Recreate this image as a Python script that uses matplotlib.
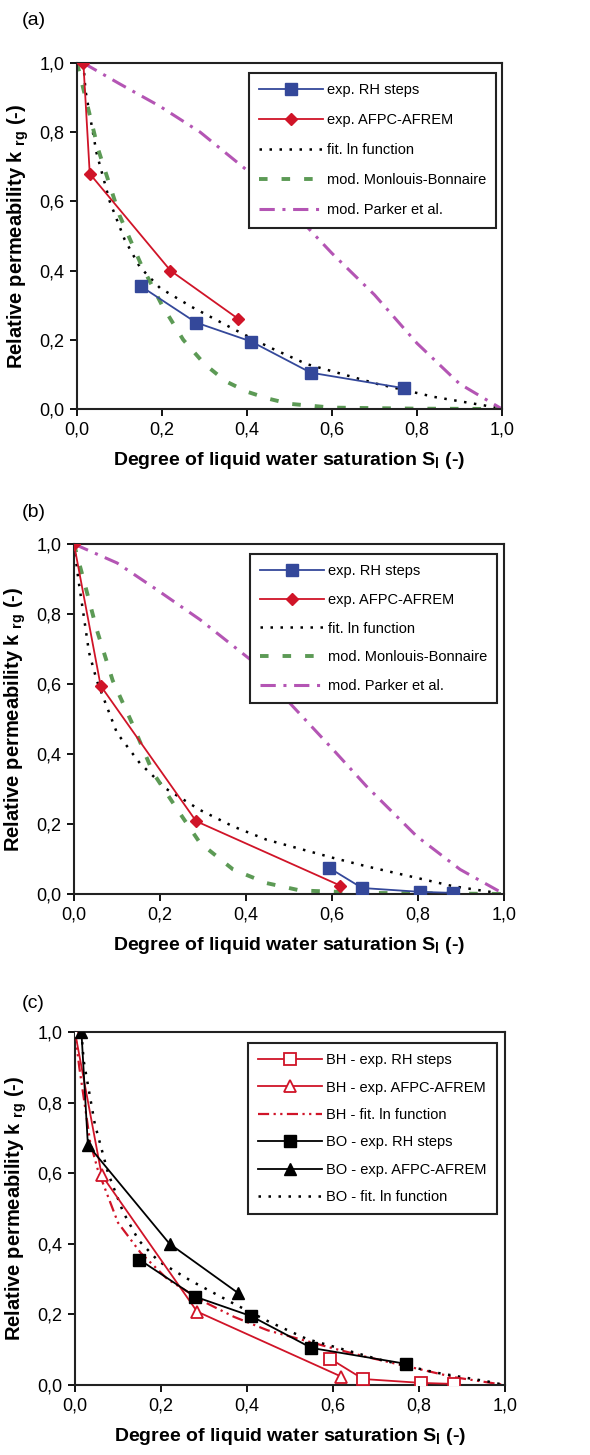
import matplotlib
matplotlib.use('Agg')
import matplotlib.pyplot as plt
from matplotlib.ticker import FuncFormatter, MultipleLocator

plt.rcParams['font.family'] = ['Liberation Sans', 'DejaVu Sans']
plt.rcParams['mathtext.fontset'] = 'custom'
plt.rcParams['mathtext.rm'] = 'Liberation Sans'
plt.rcParams['mathtext.bf'] = 'Liberation Sans:bold'

# panel (a) - BO
a_rh_x = [0.15, 0.28, 0.41, 0.55, 0.77]
a_rh_y = [0.355, 0.25, 0.195, 0.105, 0.06]
a_af_x = [0.015, 0.03, 0.22, 0.38]
a_af_y = [1.0, 0.68, 0.40, 0.26]
a_fit_x = [0.015, 0.02, 0.046, 0.077, 0.112, 0.148, 0.195, 0.27, 0.37, 0.45, 0.54, 0.705, 0.84, 0.96, 1.0]
a_fit_y = [1.0, 0.92, 0.74, 0.60, 0.49, 0.41, 0.35, 0.295, 0.23, 0.18, 0.13, 0.073, 0.035, 0.01, 0.0]
a_mb_x = [0.0, 0.02, 0.05, 0.1, 0.15, 0.2, 0.25, 0.3, 0.35, 0.4, 0.45, 0.5, 0.6, 0.8, 1.0]
a_mb_y = [1.0, 0.9, 0.75, 0.56, 0.42, 0.3, 0.2, 0.13, 0.08, 0.05, 0.03, 0.015, 0.004, 0.001, 0.0]
a_pk_x = [0.015, 0.1, 0.195, 0.29, 0.4, 0.5, 0.6, 0.7, 0.8, 0.9, 1.0]
a_pk_y = [1.0, 0.94, 0.875, 0.80, 0.69, 0.58, 0.45, 0.33, 0.19, 0.073, 0.0]

# panel (b) - BH
b_rh_x = [0.594, 0.67, 0.805, 0.882]
b_rh_y = [0.074, 0.017, 0.006, 0.003]
b_af_x = [0.0, 0.062, 0.284, 0.619]
b_af_y = [1.0, 0.595, 0.208, 0.024]
b_fit_x = [0.0, 0.01, 0.022, 0.035, 0.053, 0.1, 0.153, 0.215, 0.293, 0.37, 0.448, 0.603, 0.68, 0.797, 0.882, 1.0]
b_fit_y = [1.0, 0.9, 0.8, 0.69, 0.61, 0.46, 0.374, 0.3, 0.24, 0.193, 0.155, 0.103, 0.079, 0.046, 0.022, 0.0]
b_mb_x = [0.0, 0.022, 0.053, 0.09, 0.138, 0.184, 0.246, 0.293, 0.37, 0.448, 0.526, 0.68, 1.0]
b_mb_y = [1.0, 0.9, 0.755, 0.61, 0.48, 0.346, 0.231, 0.146, 0.07, 0.031, 0.01, 0.003, 0.0]
b_pk_x = [0.0, 0.1, 0.192, 0.293, 0.41, 0.487, 0.603, 0.68, 0.797, 0.898, 1.0]
b_pk_y = [1.0, 0.946, 0.87, 0.784, 0.67, 0.565, 0.412, 0.308, 0.165, 0.07, 0.0]

blue = '#34489a'
red = '#d01428'
green = '#5c9a55'
magenta = '#b455b4'
dotted = (0, (1, 3))
dashed = (0, (2.2, 3.6))
dashdot = (0, (5, 2.5, 1, 2.5))

xlabel = r'Degree of liquid water saturation S$_{\mathbf{l}}$ (-)'
ylabel = r'Relative permeability k $_{\mathbf{rg}}$ (-)'
comma = FuncFormatter(lambda v, p: ('%.1f' % v).replace('.', ','))


def style(ax):
    ax.set_xlim(0, 1)
    ax.set_ylim(0, 1)
    ax.xaxis.set_major_locator(MultipleLocator(0.2))
    ax.yaxis.set_major_locator(MultipleLocator(0.2))
    ax.xaxis.set_major_formatter(comma)
    ax.yaxis.set_major_formatter(comma)
    ax.tick_params(direction='out', length=5, width=1.3, labelsize=13, pad=4)
    for s in ax.spines.values():
        s.set_linewidth(1.5)
        s.set_color('#222222')
    ax.set_xlabel(xlabel, fontsize=14, fontweight='bold', labelpad=8)
    ax.set_ylabel(ylabel, fontsize=14.5, fontweight='bold', labelpad=6)


def legend(ax, anchor, spacing):
    lg = ax.legend(loc='upper right', bbox_to_anchor=anchor, fontsize=10.5,
                   handlelength=4.4, handletextpad=0.25, labelspacing=spacing,
                   borderpad=0.7, borderaxespad=0, fancybox=False,
                   framealpha=1, edgecolor='#222222')
    lg.get_frame().set_linewidth(1.5)


fig = plt.figure(figsize=(5.9, 14.55), dpi=100)

# (a)
ax = fig.add_axes([0.1305, 0.7189, 0.7203, 0.2378])
ax.plot(a_rh_x, a_rh_y, color=blue, lw=1.3, marker='s', ms=8, zorder=5, label='exp. RH steps')
ax.plot(a_af_x, a_af_y, color=red, lw=1.3, marker='D', ms=6.5, zorder=5, label='exp. AFPC-AFREM')
ax.plot(a_fit_x, a_fit_y, color='black', lw=1.8, ls=dotted, label='fit. ln function')
ax.plot(a_mb_x, a_mb_y, color=green, lw=2.8, ls=dashed, label='mod. Monlouis-Bonnaire')
ax.plot(a_pk_x, a_pk_y, color=magenta, lw=2.2, ls=dashdot, label='mod. Parker et al.')
style(ax)
legend(ax, (0.986, 0.971), 1.1)
fig.text(0.037, 0.986, '(a)', fontsize=14, va='center')

# (b)
ax = fig.add_axes([0.1254, 0.3856, 0.7288, 0.2405])
ax.plot(b_rh_x, b_rh_y, color=blue, lw=1.3, marker='s', ms=8, zorder=5, label='exp. RH steps')
ax.plot(b_af_x, b_af_y, color=red, lw=1.3, marker='D', ms=6.5, zorder=5, label='exp. AFPC-AFREM')
ax.plot(b_fit_x, b_fit_y, color='black', lw=1.8, ls=dotted, label='fit. ln function')
ax.plot(b_mb_x, b_mb_y, color=green, lw=2.8, ls=dashed, label='mod. Monlouis-Bonnaire')
ax.plot(b_pk_x, b_pk_y, color=magenta, lw=2.2, ls=dashdot, label='mod. Parker et al.')
style(ax)
legend(ax, (0.984, 0.971), 1.0)
fig.text(0.037, 1 - 512 / 1455, '(b)', fontsize=14, va='center')

# (c)
ax = fig.add_axes([0.1271, 0.0481, 0.7288, 0.2426])
ax.plot(b_rh_x, b_rh_y, color=red, lw=1.3, marker='s', ms=8, mfc='white', mew=1.3, zorder=5, label='BH - exp. RH steps')
ax.plot(b_af_x, b_af_y, color=red, lw=1.3, marker='^', ms=8.5, mfc='white', mew=1.3, zorder=5, label='BH - exp. AFPC-AFREM')
ax.plot(b_fit_x, b_fit_y, color=red, lw=1.6, ls=(0, (5, 2, 1, 2, 1, 2)), label='BH - fit. ln function')
ax.plot(a_rh_x, a_rh_y, color='black', lw=1.3, marker='s', ms=8, zorder=6, label='BO - exp. RH steps')
ax.plot(a_af_x, a_af_y, color='black', lw=1.3, marker='^', ms=8.5, zorder=6, label='BO - exp. AFPC-AFREM')
ax.plot(a_fit_x, a_fit_y, color='black', lw=1.8, ls=dotted, label='BO - fit. ln function')
style(ax)
legend(ax, (0.981, 0.969), 0.92)
fig.text(0.037, 1 - 1003 / 1455, '(c)', fontsize=14, va='center')

plt.savefig('out.png', dpi=100)
